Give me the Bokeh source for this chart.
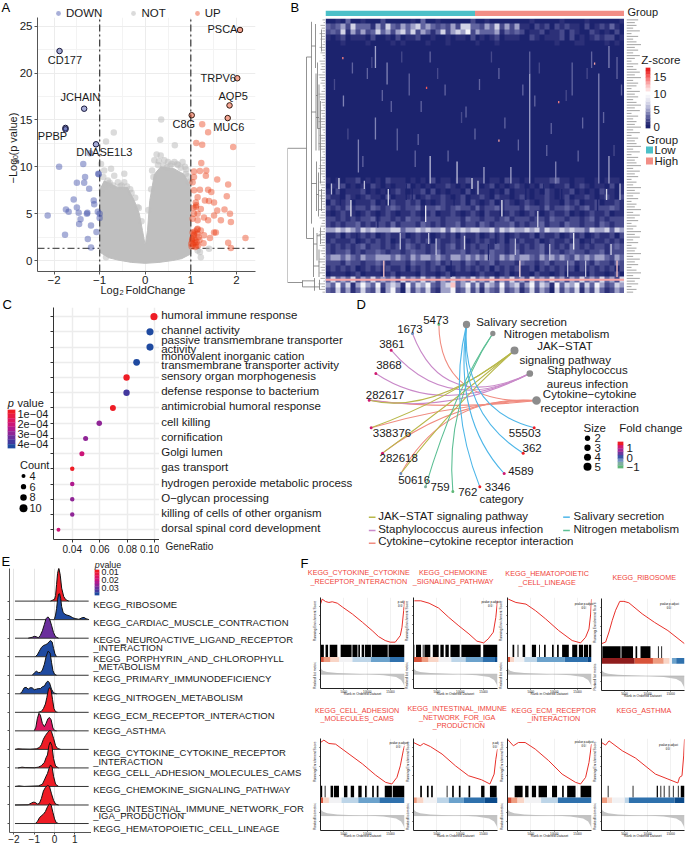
import math
import numpy as np
from bokeh.embed import file_html
from bokeh.layouts import column
from bokeh.models import (ColumnDataSource, FixedTicker, Grid, Label, Legend, LegendItem,
                          LinearAxis, LinearColorMapper, Range1d)
from bokeh.plotting import figure
from bokeh.resources import INLINE

OFF = -8
FONT = "Liberation Sans"
M = "\u2212"

# ---------- A: volcano ----------
down_x = [-2.14,-1.89,-1.76,-1.74,-1.68,-1.57,-1.5,-1.46,-1.42,-1.45,-1.5,-1.34,-1.32,-1.36,-1.23,-1.21,-1.13,-1.12,-1.27,-1.28,-1.19,-1.26,-1.19,-1.07,-1.03,-1.04,-1.0,-1.0,-1.02]
down_y = [4.8,10,2.75,5.45,5.2,6.5,5.65,5.1,4.4,3.9,8.3,8.3,8.9,10.3,7.65,11.45,6.4,6,5.1,5,3.75,2.3,1.4,3.05,9.25,5.2,5,4.55,9.2]
up_x = [1.25,1.38,1.12,1.25,1.93,1.23,1.07,1.2,1.34,1.33,1.07,1.04,1.58,1.82,1.38,1.45,1.2,1.07,1.79,1.15,1.31,1.4,1.51,1.11,1.11,1.22,1.58,1.74,1.86,1.07,1.15,1.29,1.51,1.38,1.04,1.15,1.66,1.88,1.51,1.55,1.15,1.22,1.07,1.15,1.29,1.42,2.2,1.82,1.88,1.28,1.06,1.1,1.03,1.08,1.17,1.05,1.12,1.02,1.09,1.14,1.04,1.19,1.13,1.07,1.01,1.1,1.16,1.03,1.06,1.12]
up_y = [14.55,13.7,12.55,12.35,12.1,10.4,9.5,9.55,9.6,9.05,8.9,8.35,8.65,8.1,7.55,7.3,7.55,7.5,6.85,6.75,6.4,6.35,6.2,6.2,5.7,5.5,5.35,5.45,5,5,5,4.6,4.8,4.3,4.45,4.3,4.3,4.1,3,3,3.4,3.2,2.85,2.85,2.7,2.4,2.4,1.9,1.35,1.85,2.4,2.2,2.1,1.9,2.5,1.7,1.6,1.5,3.1,3.3,3.0,2.2,1.95,2.7,1.8,1.45,1.6,2.3,5.6,5.9]
not_x = [0.35,-0.69,-0.86,0.33,0.65,-0.97,0.25,0.34,0.42,0.64,0.82,0.2,-0.75,-0.9,-0.46,-0.82,-0.68,-0.6,-0.46,-0.17,-0.86,1.22,1.15,1.2,0.96,0.89,1.4,0.72,0.55,0.15,-0.92,-0.8,-0.55,-0.3,0.9,0.5,0.3,
         -0.95,-0.88,-0.78,-0.7,-0.52,-0.4,-0.33,-0.22,-0.14,-0.08,0.07,0.13,0.18,0.28,0.4,0.47,0.58,0.7,0.78,0.87,0.93,0.98]
not_y = [15.05,13.65,12.7,12.9,12.3,10.3,11.3,11.2,10.7,10.5,10.5,10.7,9.8,9.6,9.25,8.55,9.05,8.35,8.35,5.7,0.35,0.35,1.07,0.9,8.35,9.25,1.25,10.2,10.1,9.6,8.9,8.1,7.9,7.2,9.7,10.5,10.6,
         7.6,7.9,8.3,8.0,8.0,7.9,7.6,6.7,5.6,4.2,5.4,7.6,8.9,10.2,10.1,9.9,10.3,10.3,9.9,10.0,9.0,8.4]
mass_x = [-1,-0.9,-0.6,-0.39,-0.24,-0.13,-0.06,0,0.05,0.1,0.2,0.34,0.63,0.85,0.96,1,1,0.8,0.6,0.3,0,-0.3,-0.6,-0.8,-1]
mass_y = [7.5,8.5,7.8,7.8,6.4,5,3.2,1.6,3.2,6.4,9.2,10,9.8,9.2,8.2,7.5,0.7,0.2,0,-0.2,-0.3,-0.2,0.05,0.3,0.9]
hit_dn_x = [-1.88,-1.34,-1.75,-1.75,-1.08]
hit_dn_y = [22.35,16.2,14.15,14.0,12.4]
hit_up_x = [2.08,2.02,1.85,1.81,1.02]
hit_up_y = [24.6,19.45,16.55,15.2,15.5]
fc_cut = [-1, 1]
p_cut = [1.3]

# ---------- B: heatmap ----------
digit_z = [0, .5, 1.2, 2.2, 3.5, 5, 7, 9, 12, 15]
top_rows = [
"112141120113111102141121110013112101111012111102111121110112",
"434536444253643545645434353664435463535221323132322131232421",
"343625353464535646354246356573544452434312231223132113212131",
"212312221311213122311211212213121231222113212223131212323312",
"111211102111021211112101211101211121111101111121112211112121"]
dark_levels = [0.7,0.6,0.5,0.6,0.7,0.8,0.6,0.5,0.5,0.4,0.4,0.4,0.4,0.4,0.4,0.4,0.5,0.5,0.6,0.7,0.7,0.6,0.5,0.5,0.4]
low_rows = [
"212122312121322212121312212232221221322121222342212211212221",
"122312121321212231212122321212212312123212132122312321221312",
"213122231212123212231312122131222121312221213212231212132212",
"322132123221312223123223212312232132212321223212312232123213",
"132231222312132232312123222313212312321232123221323122312232",
"323242332432343233423343234332423342333243324233432342333432",
"212322123212321223212312232123213221232123212322312123223122",
"332323233423323243323332333243323323423332332433233234232333",
"323233423233242333243232334233243233342323342332433233243233",
"556565465655566455656556465656655646565565646556565546556465",
"223132232312322312322123231322312323123223132231232312322313",
"232223123232312232323132232312323223132322312322323123223232",
"323232342332323243232332342323233243233232342323243232332343",
"323342323343233234332342333423323433234233342332343323342333",
"455454354455545435455454355454545435454554354545435454554354",
"333243323343233324332342333243233423332433234233342332433243",
"232323123232322313232323123232323132323223132323231323232313",
"122212312221231222132212312221232212312221322123122213221231",
"464546354645453645464535464546454635464536454645354645464536",
"547462575473565274657435684574636547456357465274657364753465",
"436352464362574163546325573463525436345246354163546253642354"]
hot_line_row = [47.5]
hot_line_z = [13]
col_streak = [.167,.167,.06,.11,.206,.28,.35,.35,.44,.53,.62,.683,.683,.77,.825,.914,.948,.948,.975,.32,.4,.5,.58,.7,.86,.09,.24,.6,.14,.19,.3,.47,.66,.74,.89,.058,.338,.78,.9,.58,
              .03,.075,.125,.155,.22,.255,.31,.375,.41,.455,.515,.555,.645,.715,.755,.805,.845,.875,.93,.965,.99,
              .02,.05,.085,.13,.175,.21,.25,.29,.335,.37,.43,.465,.51,.545,.59,.635,.67,.71,.75,.79,.83,.87,.91,.955,.985,
              .045,.105,.195,.27,.345,.42,.49,.57,.65,.73,.81,.885,.94,.975]
row_start = [5,18,14,22,8,10,25,6,26,27,27,10,6,26,8,10,5,25,7,15,12,20,9,14,18,8,20,18,9,13,24,16,12,23,6,7,12.4,15,8,22,
             11,20,25,7,15,6,21,9,24,17,11,6,22,8,19,13,24,9,17,23,12,
             30,31,33,29.5,35,31,39,30,34,40,32,39.5,29.5,41,33,40,30,35,41,31,39,44,32,41,30,
             29,39,44,30,39,44,29,39,44,30,44,39,31,44]
row_end = [9,22,16,28,12,14,30,8,30,30,30,30,10,30,14,30,9,30,11,17,14,22,11,16,20,10,24,20,11,15,27,18,14,25,9,7.4,12.8,15.4,8.4,22.4,
           13,22,27,9,17,8,23,11,26,19,13,8,24,10,21,15,26,11,19,25,14,
           32,34,36,31,38,34,42,33,37,43,34,42,32,44,36,43,33,38,44,33,42,47,35,43,33,
           31,41,47,33,41,47,31,41,47,32,47,41,33,47]
z_streak = [5,4,4,4,4,3,6,3,6,5,5,5,3,4,3,4,4,5,3,3,3,3,3,3,3,3,3,3,3,3,3,3,3,3,3,14,15,14,13,13,
            2.5,2.5,3,2.5,3,2.5,3,2.5,3,2.5,3,2.5,3,2.5,3,2.5,3,2.5,3,2.5,3,
            6,.1,8,6,.1,7,6,.1,8,6,.1,7,6,.1,8,6,.1,7,6,.1,8,6,.1,7,6,
            7,.1,12,.1,6,.1,7,.1,11,.1,6,.1,7,12]
group_sizes = [150, 150]
leaf_h = "3254364523645326545376453247654325436745326547653245367453265473654327456345267354635426735463527463"
dend_v = [(38,23.6,48),(23,47.6,48.8),(19,7,40),(14,0.6,37.3),(12,38,47),(10,1,9),(9.5,10,24),(8,8,20),(6.5,12,24),(5,15,30),(9,26,35),(7,28,36),(8.5,39,44),(6.5,42,47),(5,38,41),(11,47.2,49.5),(6,47.5,49.3),(4,2,6),(4,31,35)]
dend_h = [(38,19,23.6),(38,23,48),(23,11,47.7),(23,6,48.8),(19,14,7),(19,12,40),(14,10,5),(14,9.5,17),(9.5,8,14),(9.5,6.5,18),(8,5,20),(14,9,30),(9,7,32),(12,8.5,41),(12,6.5,45),(8.5,5,39.5)]
label_len = "7564837469574853746859476385746958374659483756948375694857364958473659485736495847365948573694857364"

# ---------- C: dot plot ----------
go_ratio = [.0993,.0964,.0964,.0867,.0794,.0794,.0695,.0596,.0497,.047,.04,.04,.04,.04,.03]
go_count = [10,10,10,9,8,8,7,6,5,5,4,4,4,4,3]
go_p = [.6,4.3,4.3,4.1,.7,3.6,.8,2.9,3.1,2.2,.7,2.4,2.9,3.1,2.1]

# ---------- D: network (layout units) ----------
cat_x = [378,457,522,568,588]
cat_y = [87,114,165,234,315]
cat_size = [7.3,5.3,8,6.7,8.7]
gene_ids = ["5473","1673","3861","3868","282617","338376","282618","50616","759","762","3346","4589","362","55503"]
gene_x = [295,216,152,106,86,92,126,181,255,337,418,491,548,581]
gene_y = [86,114,164,234,314,397,473,534,574,588,574,534,473,397]
gene_fc = [-.9,-.3,1.3,1.3,1.5,1.4,1.4,-.4,-.5,-.9,1.7,1.3,1.9,1.9]
edge_cat = [4,4,4,4,4,3,3,3,3,2,2,2,2,1,1,0,0,0,0]
edge_gene = ["5473","282617","338376","282618","50616","1673","3861","3868","282617","282617","338376","282618","50616","759","762","55503","362","4589","3346"]
edge_cx = [298,332,340,343,316,308,320,303,333,276,333,336,338,344,313,360,350,340,320]
edge_cy = [330,345,324,306,296,356,361,366,356,360,309,321,330,276,330,340,350,370,330]
edge_colors = ["#4db6e8","#5cbf94","#b8b84a","#c98ac9","#f08c80"]

# ---------- E: ridges ----------
ridge_names = ["RIBOSOME","CARDIAC","NEURO","PORPHYRIN","PRIMARY","NITROGEN","ECM","ASTHMA","CYTOKINE","CELL","CHEMOKINE","INTESTINAL","HEMATO"]
ridge_p = [.7,3.7,3.0,3.7,3.7,3.7,.7,1.8,.7,.7,.7,.7,.7]
rx = {}; rh = {}
rx["RIBOSOME"]=[-.2,0,.05,.1,.15,.21,.28,.35,.45,.55,.7]; rh["RIBOSOME"]=[0,.1,.3,.9,1.5,1.8,1.4,.7,.25,.08,0]
rx["CARDIAC"]=[-.05,0,.05,.1,.15,.2,.25,.3,.35,.42,.5,.6,.75,.9,1.05,1.2,1.35,1.45,1.55,1.7]; rh["CARDIAC"]=[0,.05,.25,.6,1.1,1.38,1.4,1.15,.7,.4,.3,.25,.2,.1,.05,.02,.1,.12,.05,0]
rx["NEURO"]=[-1.3,-1.1,-1,-.9,-.8,-.7,-.6,-.5,-.42,-.33,-.25,-.15,-.05,.05,.2]; rh["NEURO"]=[0,.05,.1,.08,.02,.15,.4,.75,1.05,1.15,1.05,.7,.3,.08,0]
rx["PORPHYRIN"]=[-.95,-.85,-.75,-.65,-.55,-.45,-.35,-.28,-.2,-.12,-.05,.02,.1]; rh["PORPHYRIN"]=[0,.1,.3,.5,.6,.65,.7,.8,.87,.8,.45,.15,0]
rx["PRIMARY"]=[-1.1,-1,-.9,-.8,-.7,-.6,-.5,-.42,-.32,-.22,-.15,-.08,0,.1]; rh["PRIMARY"]=[0,.12,.22,.15,.15,.28,.6,1,1.3,1.2,.7,.25,.05,0]
rx["NITROGEN"]=[-1.7,-1.6,-1.5,-1.4,-1.3,-1.2,-1.1,-1,-.9,-.8,-.7,-.6,-.5,-.4,-.33,-.25,-.15,-.05,.1]; rh["NITROGEN"]=[0,.12,.32,.35,.25,.33,.32,.22,.25,.28,.28,.38,.42,.62,.68,.6,.25,.05,0]
rx["ECM"]=[-.8,-.65,-.55,-.45,-.38,-.3,-.24,-.17,-.1,-.03,.05,.15]; rh["ECM"]=[0,.05,.2,.45,.8,1.25,1.34,1.2,.7,.2,.03,0]
rx["ASTHMA"]=[-1,-.92,-.85,-.77,-.7,-.6,-.5,-.42,-.33,-.25,-.17,-.08,0,.1]; rh["ASTHMA"]=[0,.2,.65,.95,.85,.4,.23,.4,.65,.72,.6,.15,.02,0]
rx["CYTOKINE"]=[-1.95,-1.8,-1.6,-1.2,-.9,-.75,-.65,-.55,-.45,-.35,-.23,-.15,-.05,.05,.15,.3]; rh["CYTOKINE"]=[0,.03,.02,.01,.03,.1,.25,.55,.75,.9,1.04,.95,.6,.2,.05,0]
rx["CELL"]=[-1.8,-1.6,-1.45,-1,-.8,-.65,-.5,-.42,-.35,-.28,-.21,-.13,-.05,.05,.2]; rh["CELL"]=[0,.04,.02,.01,.04,.12,.3,.55,.7,1.2,1.4,1.2,.5,.1,0]
rx["CHEMOKINE"]=[-1.95,-1.75,-1.5,-.8,-.6,-.5,-.42,-.35,-.28,-.2,-.12,-.05,.05,.2]; rh["CHEMOKINE"]=[0,.03,0,.03,.12,.35,.55,.7,.95,1.16,1.05,.55,.12,0]
rx["INTESTINAL"]=[-1.95,-1.3,-1.15,-1.05,-.95,-.85,-.75,-.65,-.55,-.45,-.34,-.25,-.15,-.05,.05,.2]; rh["INTESTINAL"]=[0,.01,.1,.15,.14,.05,.08,.35,.75,.95,1.06,1,.6,.25,.05,0]
rx["HEMATO"]=[-.95,-.85,-.75,-.65,-.55,-.45,-.35,-.25,-.17,-.08,0,.08,.2]; rh["HEMATO"]=[0,.1,.3,.42,.5,.65,.9,1.07,1,.6,.25,.05,0]

# ---------- F: enrichment ----------
N_RANK = 18000
es_x = [
[0,.02,.06,.1,.14,.2,.26,.38,.5,.615,.69,.77,.83,.89,.95,.97,.99,1],
[.01,.087,.185,.3,.42,.54,.66,.755,.835,.89,.95,.98,1],
[.01,.1,.22,.335,.455,.61,.77,.87,.93,.97,.99,1],
[0,.05,.09,.13,.17,.22,.27,.33,.49,.64,.8,1],
[0,.04,.1,.18,.34,.5,.655,.775,.85,.91,.95,.985,1],
[0,.08,.12,.2,.34,.5,.655,.81,.91,.96,.98,1],
[0,.07,.13,.21,.33,.49,.65,.81,.87,.93,.97,1],
[0,.05,.09,.25,.41,.65,.8,.92,.94,.97,.99,1]]
es_y = [
[.86,.965,.915,.895,.91,.88,.8,.65,.475,.3,.175,.09,.055,.055,.195,.37,.72,.93],
[.93,.93,.88,.776,.58,.4,.23,.077,.04,.126,.266,.58,.93],
[.965,.895,.86,.72,.545,.3,.09,.04,.16,.335,.65,.965],
[.056,.09,.3,.545,.755,.94,.94,.91,.68,.5,.33,.056],
[.915,.965,.894,.88,.67,.46,.225,.07,.035,.176,.42,.74,.845],
[.915,.845,.895,.83,.67,.42,.21,.125,.035,.245,.56,.775],
[.985,.845,.915,.915,.775,.53,.245,.07,.035,.176,.49,.88],
[.915,.86,.95,.74,.585,.245,.14,.056,.176,.21,.63,.985]]
rug_hits = [
[(0,.04),(.06,.09),(.11,.2),(.24,.37),(.38,.44),(.45,.47),(.49,.52),(.53,.6),(.61,.8),(.81,1)],
[(0,.01),(.03,.09),(.11,.12),(.13,.2),(.23,.3),(.32,.36),(.38,.42),(.44,.55),(.57,.8),(.83,1)],
[(.06,.08),(.12,.13),(.18,.21),(.29,.34),(.375,.385),(.435,.455),(.53,.55),(.59,.61),(.65,.73),(.77,.83),(.85,.9),(.91,.96),(.97,1)],
[(.01,.23),(.24,.38),(.41,.43),(.47,.59),(.68,.69),(.72,.73)],
[(0,.02),(.05,.06),(.12,.15),(.16,.22),(.28,.32),(.36,.4),(.45,.49),(.53,.55),(.615,.635),(.67,.69),(.765,.85),(.86,1)],
[(.08,.1),(.16,.18),(.21,.23),(.395,.405),(.46,.48),(.54,.56),(.655,.675),(.805,.845),(.91,.99)],
[(.085,.18),(.21,.25),(.29,.34),(.37,.47),(.53,.59),(.65,.67),(.71,.81),(.87,1)],
[(.075,.085),(.375,.385),(.665,.68),(.71,.72),(.75,.76),(.81,.82),(.86,.87),(.92,.93),(.955,1)]]
band_end = [
[.04,.12,.22,.38,.6,.82,1],[.1,.18,.3,.45,.62,.82,.97,1],[.03,.08,.2,.35,.68,.95,1],[.4,.62,.75,.82,.85,.9,1],
[.03,.1,.25,.45,.7,1],[.04,.12,.28,.42,.6,.85,1],[.05,.12,.2,.4,.6,1],[.07,.13,.28,.33,.88,1]]
band_level = [
[3,2,1,0,-1,-2,-3],[3,2,1,0,-1,-2,-3,-4],[3,1,0,-1,-2,-3,-4],[4,3,2,1,0,-2,-3],
[3,1,0,-1,-2,-3],[2,1,0,-1,-2,-3,-4],[3,2,1,0,-1,-3],[2,1,0,-1,-3,-4]]
rank_x = [0,.01,.03,.08,.2,.4,.6,.75,.9,.96,.99,1]
rank_metric = [.54,.35,.25,.16,.08,.03,-.02,-.07,-.2,-.4,-.7,-.95]
rank_ticks = [5000,10000,15000]

figs = []

def base(l, t, r, b, xr, yr, bl=0, bt=0, br=0, bb=0):
    l, t, r, b = round(l), round(t), round(r), round(b)
    left, top = l - bl, t - bt
    f = figure(width=r - l + bl + br, height=b - t + bt + bb, x_range=xr, y_range=yr,
               x_axis_type=None, y_axis_type=None, tools="", toolbar_location=None,
               output_backend="svg", background_fill_color=None, border_fill_color=None,
               outline_line_color=None, min_border_left=bl, min_border_right=br,
               min_border_top=bt, min_border_bottom=bb, frame_align=False,
               styles={"position": "absolute", "left": f"{left-OFF}px", "top": f"{top-OFF}px"})
    figs.append(f)
    return f

def T(f, x, y, text, size=11.5, color="#1a1a1a", align="left", angle=0, style="normal", bg=None):
    f.add_layout(Label(x=x, y=y, text=text, text_font=FONT, text_font_size=f"{size}px",
                       text_color=color, text_align=align, text_baseline="middle", angle=angle,
                       text_font_style=style, background_fill_color=bg))

def axis(f, side, ticks, labels=None, size=11, color="#555555", w=1, out=3, standoff=2,
         lcolor="#1a1a1a", range_name=None):
    kw = {}
    if range_name:
        kw["y_range_name"] = range_name
    ax = LinearAxis(ticker=FixedTicker(ticks=ticks), axis_line_color=color, axis_line_width=w,
                    major_tick_line_color=color, major_tick_line_width=w, major_tick_out=out,
                    major_tick_in=0, minor_tick_line_color=None,
                    major_label_text_font=FONT, major_label_text_font_size=f"{size}px",
                    major_label_text_color=lcolor, major_label_standoff=standoff, **kw)
    if labels is not None:
        ax.major_label_overrides = {k: v for k, v in zip(ticks, labels)}
    f.add_layout(ax, side)
    return ax

def grid(f, dim, ticks, color="#ececec", w=1):
    f.add_layout(Grid(dimension=dim, ticker=FixedTicker(ticks=ticks), grid_line_color=color, grid_line_width=w))

def colorbar(l, t, r, b, palette, top_v, bot_v, ticks, labels, size, standoff=3):
    f = base(l, t, r, b, Range1d(0, 1), Range1d(bot_v, top_v), br=35, bt=8, bb=8)
    n = len(palette)
    lo, hi = min(top_v, bot_v), max(top_v, bot_v)
    e = np.linspace(lo, hi, n + 1)
    f.quad(left=0, right=1, bottom=e[:-1], top=e[1:], fill_color=palette, line_color=palette, line_width=0.3)
    axis(f, "right", ticks, labels, size=size, color=None, out=0, standoff=standoff)
    return f

def key(xc, y0, y1, labels, sizes, size=11, marker="circle", colors="#000000", lx=None):
    n = len(labels)
    step = (y1 - y0) / max(n - 1, 1)
    f = base(xc - 6, y0 - step / 2, xc + 6, y1 + step / 2, Range1d(0, 1), Range1d(n - .5, -.5), br=30, bt=8, bb=8)
    f.scatter(x=[.5] * n, y=list(range(n)), size=sizes, marker=marker, fill_color=colors, line_color=None)
    axis(f, "right", list(range(n)), labels, size=size, color=None, out=0,
         standoff=int((lx if lx else xc + 7) - (xc + 6)))
    return f

# ---------- full-page text layer (moved on top of the panels at the end) ----------
cv = base(0, 0, 685, 843, Range1d(0, 685), Range1d(843, 0))
for s, x, y in [("A", 1, 6.5), ("B", 290, 6.5), ("C", 2, 304), ("D", 356, 303.7), ("E", 1, 560.7), ("F", 300, 562.7)]:
    T(cv, x, y, s, size=13, color="#000000")

# ---------- panel A ----------
pa = base(37, 17, 255, 271, Range1d(-2.364, 2.42), Range1d(-1.17, 25.93), bl=37, bt=0, br=5, bb=25)
grid(pa, 0, [-1.5, -.5, .5, 1.5], "#f3f3f3"); grid(pa, 1, [2.5, 7.5, 12.5, 17.5, 22.5], "#f3f3f3")
grid(pa, 0, [-2, -1, 0, 1, 2]); grid(pa, 1, [0, 5, 10, 15, 20, 25])
axis(pa, "below", [-2, -1, 0, 1, 2], [M + "2", M + "1", "0", "1", "2"], size=11.5, standoff=1)
axis(pa, "left", [0, 5, 10, 15, 20, 25], size=11.5, standoff=2)
pa.segment(x0=[-2.364], x1=[2.42], y0=p_cut, y1=p_cut, line_color="#555555", line_width=1.3, line_dash="7 3 2 3")
pa.patch(mass_x, mass_y, fill_color="#bfbfbf", line_color="#bfbfbf")
pa.scatter(not_x, not_y, size=6.5, fill_color="#bdbdbd", fill_alpha=.55, line_color=None)
pa.segment(x0=fc_cut, x1=fc_cut, y0=[-1.17, -1.17], y1=[25.93, 25.93], line_color="#444444", line_width=1.3, line_dash="7 3 2 3")
pa.scatter(down_x, down_y, size=6.5, fill_color="#3e4ea8", fill_alpha=.45, line_color=None)
pa.scatter(up_x, up_y, size=6.5, fill_color="#ea3a10", fill_alpha=.42, line_color=None)
pa.scatter(hit_dn_x, hit_dn_y, size=5.5, fill_color="#3e4ea8", fill_alpha=.45, line_color="#15153a", line_width=1)
pa.scatter(hit_up_x, hit_up_y, size=5.5, fill_color="#ea3a10", fill_alpha=.45, line_color="#331a10", line_width=1)
pk = base(52, 4, 240, 22, Range1d(0, 1), Range1d(0, 1))
k_dn = pk.scatter(x=[-1], y=[-1], size=7, fill_color="#3e4ea8", fill_alpha=.45, line_color=None)
k_no = pk.scatter(x=[-1], y=[-1], size=7, fill_color="#bdbdbd", fill_alpha=.55, line_color=None)
k_up = pk.scatter(x=[-1], y=[-1], size=7, fill_color="#ea3a10", fill_alpha=.42, line_color=None)
pk.add_layout(Legend(items=[LegendItem(label="DOWN", renderers=[k_dn]), LegendItem(label="NOT", renderers=[k_no]),
                            LegendItem(label="UP", renderers=[k_up])],
                     orientation="horizontal", location=(0, 3), background_fill_alpha=0, border_line_color=None,
                     label_text_font=FONT, label_text_font_size="11.5px", glyph_width=12, glyph_height=12,
                     spacing=25, margin=0, padding=0, label_standoff=2, label_text_color="#1a1a1a"))
for s, x, y in [("PSCA", 207, 28.7), ("CD177", 47.3, 59), ("TRPV6", 200, 77.3), ("JCHAIN", 60, 96.3), ("AQP5", 218, 95.7),
                ("C8G", 172, 123.7), ("PPBP", 37.3, 135.7), ("MUC6", 212.7, 126.3), ("DNASE1L3", 75.7, 151.3)]:
    T(cv, x, y, s, size=11)
T(cv, 12.3, 183, M + "Log", size=11, angle=math.pi / 2)
T(cv, 15, 163, "10", size=7.5, angle=math.pi / 2)
T(cv, 12.3, 155, "(p value)", size=11, angle=math.pi / 2)
T(cv, 100, 289, "Log", size=11); T(cv, 119, 292, "2", size=7.5); T(cv, 125, 289, "FoldChange", size=11)

# ---------- panel B ----------
ROWS, COLS = 50, 60
mat = np.zeros((ROWS, COLS))
for r, row in enumerate(top_rows):
    mat[r] = [digit_z[int(c)] for c in row[:COLS].ljust(COLS, "1")]
for i, v in enumerate(dark_levels):
    mat[5 + i] = v
for i, row in enumerate(low_rows):
    mat[29 + i] = [digit_z[int(c)] for c in row[:COLS].ljust(COLS, "1")]
heat_pal = ["#1c236e","#2c3078","#474a8c","#6164a0","#8083b5","#9fa1c8","#bcbdd9","#d2d3e6","#e6e6f1","#f4f4f9","#ffffff","#fde0e0","#fbc4c4","#f9a3a3","#f78080","#f45a5a","#ee3a3a","#e62020"]
hm = LinearColorMapper(palette=heat_pal, low=0, high=17.8)
pb = base(325, 18.3, 624, 293, Range1d(0, 1), Range1d(0, ROWS))
pb.image(image=[np.flipud(mat)], x=0, y=0, dw=1, dh=ROWS, color_mapper=hm)
src = ColumnDataSource(dict(l=[c - .0022 for c in col_streak], r=[c + .0022 for c in col_streak],
                            t=[ROWS - s for s in row_start], b=[ROWS - e for e in row_end], z=z_streak))
pb.quad(left="l", right="r", top="t", bottom="b", source=src, fill_color={"field": "z", "transform": hm}, line_color=None)
pb.quad(left=0, right=1, top=[ROWS - r + .2 for r in hot_line_row], bottom=[ROWS - r - .2 for r in hot_line_row],
        fill_color=[hm.palette[int(z)] for z in hot_line_z], line_color=None)
pg = base(325, 7, 624, 16, Range1d(0, sum(group_sizes)), Range1d(0, 1))
pg.hbar(y=[.5, .5], height=1, left=[0, group_sizes[0]], right=[group_sizes[0], sum(group_sizes)],
        fill_color=["#4cc0c8", "#f28e86"], line_color=None)
T(cv, 627, 11, "Group", size=11)
pd_ = base(287, 18.3, 325, 293, Range1d(38, 0), Range1d(ROWS, 0))
pd_.segment(x0=[h for h, _, _ in dend_v], x1=[h for h, _, _ in dend_v], y0=[a for _, a, _ in dend_v], y1=[b for _, _, b in dend_v], line_color="#777777", line_width=.8)
pd_.segment(x0=[a for a, _, _ in dend_h], x1=[b for _, b, _ in dend_h], y0=[y for _, _, y in dend_h], y1=[y for _, _, y in dend_h], line_color="#777777", line_width=.8)
ly = [(i + .5) * ROWS / len(leaf_h) for i in range(len(leaf_h))]
pd_.segment(x0=[int(c) for c in leaf_h], x1=[0] * len(ly), y0=ly, y1=ly, line_color="#8a8a8a", line_width=.7)
pl = base(626, 18.3, 641, 293, Range1d(0, 9), Range1d(ROWS, 0))
pl.segment(x0=[0] * len(ly), x1=[int(c) for c in label_len], y0=ly, y1=ly, line_color="#9a9a9a", line_width=.9)
T(cv, 640.7, 58.7, "Z-score", size=11.6)
colorbar(645, 66.7, 650, 128.3, heat_pal, 17.8, -.5, [0, 5, 10, 15], ["0", "5", "10", "15"], 11.5)
T(cv, 645.7, 139, "Group", size=11.5)
key(649, 149.2, 160.5, ["Low", "High"], [7, 7], size=11.5, marker="square", colors=["#4cc0c8", "#f28e86"], lx=654)

# ---------- panel C ----------
grad = ["#1f4aa0","#43389e","#6a2f9c","#8f2596","#b01a8e","#cc1578","#dc1660","#e81a42","#ee1c25"]
cm = LinearColorMapper(palette=grad[::-1], low=.6, high=4.4)
rows_c = list(range(15))
pc = base(53, 307, 159, 539, Range1d(.0264, .1033), Range1d(14.64, -.6), bl=5, bb=18)
grid(pc, 0, [.04, .06, .08, .10], w=1.5); grid(pc, 1, rows_c, w=1.5)
axis(pc, "below", [.04, .06, .08, .10], ["0.04", "0.06", "0.08", "0.10"], size=10, color="#333333", standoff=2)
axis(pc, "left", rows_c, [""] * 15, size=1, color="#333333", standoff=0)
csrc = ColumnDataSource(dict(x=go_ratio, y=rows_c, p=go_p, s=[2.25 * math.sqrt(c) for c in go_count]))
pc.scatter("x", "y", size="s", source=csrc, fill_color={"field": "p", "transform": cm}, line_color=None)
c_lines = [["humoral immune response"], ["channel activity"], ["passive transmembrane transporter", "activity"],
           ["monovalent inorganic cation", "transmembrane transporter activity"], ["sensory organ morphogenesis"],
           ["defense response to bacterium"], ["antimicrobial humoral response"], ["cell killing"], ["cornification"],
           ["Golgi lumen"], ["gas transport"], ["hydrogen peroxide metabolic process"], ["O" + M + "glycan processing"],
           ["killing of cells of other organism"], ["dorsal spinal cord development"]]
for i, ls in enumerate(c_lines):
    yc = 316 + i * 15.24 - 1.5
    if len(ls) == 2:
        shift = -1.3 if i == 2 else 0
        T(cv, 160.7, yc - 4.6 + shift, ls[0]); T(cv, 160.7, yc + 4.6 + shift, ls[1])
    else:
        T(cv, 160.7, yc, ls[0])
T(cv, 165, 546, "GeneRatio", size=10)
T(cv, 7.3, 402, "p", style="italic", size=11); T(cv, 17, 402, "value", size=11)
colorbar(7, 409, 16, 448, grad[::-1], .6, 4.47, [1, 2, 3, 4], ["1e" + M + "04", "2e" + M + "04", "3e" + M + "04", "4e" + M + "04"], 11, standoff=2)
T(cv, 19.5, 464, "Count", size=11)
key(23.3, 475.3, 507.3, ["4", "6", "8", "10"], [4, 5.3, 6.5, 8], size=11, lx=30)

# ---------- panel D ----------
fc_pal = ["#5fb878","#7fb0a0","#6f8fc0","#3a55a8","#6a3aa0","#a02a98","#d01a70","#ee1c25"]
fm = LinearColorMapper(palette=fc_pal, low=-1.18, high=1.9)
pn = base(340, 295, 685, 555, Range1d(0, 1035), Range1d(780, 0))
gx = dict(zip(gene_ids, gene_x)); gy = dict(zip(gene_ids, gene_y))
for c, g, cx, cy in zip(edge_cat, edge_gene, edge_cx, edge_cy):
    pn.quadratic(x0=[cat_x[c]], y0=[cat_y[c]], x1=[gx[g]], y1=[gy[g]], cx=[cx], cy=[cy], line_color=edge_colors[c], line_width=1.1)
pn.scatter(cat_x, cat_y, size=cat_size, fill_color="#8c8c8c", line_color=None)
pn.scatter("x", "y", size=3, source=ColumnDataSource(dict(x=gene_x, y=gene_y, fc=gene_fc)),
           fill_color={"field": "fc", "transform": fm}, line_color=None)
for s, x, y in [("Salivary secretion",407,79),("Nitrogen metabolism",490,114),("JAK" + M + "STAT",590,152),("signaling pathway",537,193),
                ("Staphylococcus",620,223),("aureus infection",619,265),("Cytokine" + M + "cytokine",607,296),("receptor interaction",600,337),
                ("5473",248,72),("1673",170,99),("3861",116,145),("3868",107,209),("282617",76,299),("338376",97,413),("282618",117,488),
                ("50616",173,553),("759",270,574),("762",353,588),("3346",433,574),("4589",503,527),("362",546,458),("55503",505,411),
                ("category",417,609),("JAK" + M + "STAT signaling pathway",113,660),("Staphylococcus aureus infection",113,699),
                ("Cytokine" + M + "cytokine receptor interaction",113,737),("Salivary secretion",699,660),("Nitrogen metabolism",699,699),
                ("Size",729,397),("Fold change",836,397)]:
    T(pn, x, y, s)
pn.segment(x0=[85, 85, 85, 668, 668], x1=[105, 105, 105, 688, 688], y0=[665, 705, 743, 665, 705], y1=[665, 705, 743, 665, 705],
           line_color=[edge_colors[2], edge_colors[3], edge_colors[4], edge_colors[0], edge_colors[1]], line_width=1.5)
colorbar(617.3, 440.7, 623.3, 468.3, fc_pal, 1.75, -1.18, [-1, 0, 1, 2], [M + "1", "0", "1", "2"], 11.5, standoff=3)
key(587.3, 438, 466, ["2", "3", "4", "5"], [5.3, 6.3, 7, 8], size=11.5, lx=595)

# ---------- panel E ----------
pe = base(9, 568, 91, 833, Range1d(-2.22, 1.82), Range1d(-.484, 13.76), bl=5, bb=12)
grid(pe, 0, [-2, -1, 0, 1], "#e4e4e4")
axis(pe, "below", [-2, -1, 0, 1], [M + "2", M + "1", "0", "1"], size=10, standoff=0, out=2)
axis(pe, "left", list(range(13)), [""] * 13, size=1, standoff=0, out=2)
for i, (nm, p) in enumerate(zip(ridge_names, ridge_p)):
    base_y = 12 - i
    col = grad[::-1][min(8, max(0, int((p - .7) / 3.0 * 8)))]
    xs = rx[nm]; ys = [base_y + h for h in rh[nm]]
    pe.varea(x=xs, y1=[base_y] * len(xs), y2=ys, fill_color=col)
    pe.line(xs, ys, line_color="#111111", line_width=1)
    pe.line([-1.95, 1.68], [base_y, base_y], line_color="#333333", line_width=1)
for s, zy in [("KEGG_RIBOSOME",161),("KEGG_CARDIAC_MUSCLE_CONTRACTION",217),("KEGG_NEUROACTIVE_LIGAND_RECEPTOR",266),("_INTERACTION",291),
              ("KEGG_PORPHYRIN_AND_CHLOROPHYLL",324),("_METABOLISM",349),("KEGG_PRIMARY_IMMUNODEFICIENCY",384),("KEGG_NITROGEN_METABOLISM",441),
              ("KEGG_ECM_RECEPTOR_INTERACTION",494),("KEGG_ASTHMA",539),("KEGG_CYTOKINE_CYTOKINE_RECEPTOR",607),("_INTERACTION",632),
              ("KEGG_CELL_ADHESION_MOLECULES_CAMS",665),("KEGG_CHEMOKINE_SIGNALING_PATHWAY",718),("KEGG_INTESTINAL_IMMUNE_NETWORK_FOR",773),
              ("_IGA_PRODUCTION",796),("KEGG_HEMATOPOIETIC_CELL_LINEAGE",833)]:
    T(cv, 92.7, 550 + zy / 3, s, size=9.5)
T(cv, 94.3, 564.7, "p", size=8.9, style="italic"); T(cv, 99.5, 564.7, "value", size=8.9)
colorbar(94, 569.3, 99, 594.7, grad[::-1], .66, 3.89, [1, 2, 3], ["0.01", "0.02", "0.03"], 8.9, standoff=2)

# ---------- panel F ----------
band_pal = ["#0b4a8a","#2f71ad","#6ba2cc","#bdd5e8","#f2f2f4","#f9d5c6","#ee9c80","#d8533a","#8f1d1d"]
geom = [(320,404,596.7,644.3,656.7,661.7,688.3),(412.7,497,596.7,644.3,656.7,661.7,688.3),(506.7,591,596.7,644.3,656.7,661.7,688.3),(600.7,684,598.3,646,657.7,663.3,690),
        (320,404,737.7,785,797,802.3,830),(413.3,497,737.7,785,797,802.3,830),(507,591,737.7,785,797,802.3,830),(600.7,684,737.7,785,797,802.3,830)]
def sub_range(f0, f1, v0, v1):
    s = (v1 - v0) / (f1 - f0)
    return Range1d(v0 - f0 * s, v1 + (1 - f1) * s)
for i, (l, r, t, e, g, d, k) in enumerate(geom):
    H = k - t
    f = base(l, t, r, k, Range1d(0, N_RANK), Range1d(0, 1), bl=4, bb=8, br=1)
    fb = (k - d) / H; fd = (k - g) / H; fe = (k - e) / H
    f.extra_y_ranges = {"es": sub_range(fe, 1, 0, 1), "rug": sub_range(fd, fe, 0, 1),
                        "band": sub_range(fb, fd, 0, 1), "rank": sub_range(0, fb, -1, .85)}
    grid(f, 0, rank_ticks, "#e8e8e8", .6)
    f.line([x * N_RANK for x in es_x[i]], es_y[i], y_range_name="es", line_color="#e8302a", line_width=1)
    f.quad(left=[a * N_RANK for a, _ in rug_hits[i]], right=[b * N_RANK for _, b in rug_hits[i]], bottom=0, top=1,
           y_range_name="rug", fill_color="#000000", line_color=None)
    ends = band_end[i]; starts = [0] + ends[:-1]
    f.quad(left=[a * N_RANK for a in starts], right=[a * N_RANK for a in ends], bottom=0, top=1, y_range_name="band",
           fill_color=[band_pal[int(v + 4)] for v in band_level[i]], line_color=None)
    f.varea(x=[x * N_RANK for x in rank_x], y1=[0] * len(rank_x), y2=rank_metric, y_range_name="rank", fill_color="#c4c4c4")
    f.line([0, N_RANK], [0, 0], y_range_name="rank", line_color="#aaaaaa", line_width=.6)
    axis(f, "below", rank_ticks, [str(v) for v in rank_ticks], size=3, color="#222222", out=1, standoff=0)
    axis(f, "left", [.1, .2, .6, .7, .8, .9], [""] * 6, size=1, color="#222222", out=1, standoff=0)
    lx = l - 6
    T(cv, lx, (t + e) / 2, "Running Enrichment Score", size=3.4, align="center", angle=math.pi / 2)
    T(cv, lx, (d + k) / 2, "Ranked list metric", size=3.4, align="center", angle=math.pi / 2)
    T(cv, (l + r) / 2, k + 5.5, "Rank in Ordered Dataset", size=3.4, align="center")

RED = "#ef3f38"
for s, zx, zy in [("KEGG_CYTOKINE_CYTOKINE",190,66),("_RECEPTOR_INTERACTION",190,92),("KEGG_CHEMOKINE",473,66),("_SIGNALING_PATHWAY",473,92),
                  ("KEGG_HEMATOPOIETIC",755,70),("_CELL_LINEAGE",755,95),("KEGG_RIBOSOME",1046,82)]:
    T(cv, 295 + zx / 3, 550 + zy / 3, s, size=7.2, color=RED, align="center")
for s, zx, zy in [("KEGG_CELL_ADHESION",185,44),("_MOLECULES_CAMS",185,69),("KEGG_INTESTINAL_IMMUNE",485,39),("_NETWORK_FOR_IGA",485,65),("_PRODUCTION",490,91),
                  ("KEGG_ECM_RECEPTOR",775,44),("_INTERACTION",775,69),("KEGG_ASTHMA",1045,44)]:
    T(cv, 295 + zx / 3, 695 + zy / 3, s, size=7.2, color=RED, align="center")
for zx, zy, s in [(316,601,"p.adj"),(586,601,"pvalue p.adjust"),(866,603,"pvalue p.adjust"),(1122,603,"pvalue p.adjust")]:
    T(cv, 295 + zx / 3, zy, s, size=2.8, color="#000000", align="center")
    T(cv, 295 + zx / 3, zy + 4, "0   0", size=2.8, color="#222222", align="center", bg="#eeeeee")
for zx, zy, s in [(310,741.7,"pvalue p.adjust"),(600,741.7,"p.adj"),(866,740.7,"pvalue p.adjust"),(1119,743.7,"pvalue p.adjust")]:
    T(cv, 295 + zx / 3, zy, s, size=2.8, color="#000000", align="center")
    T(cv, 295 + zx / 3, zy + 4, "0   0", size=2.8, color="#222222", align="center", bg="#eeeeee")

figs.append(figs.pop(0))
root = column(*figs, width=685, height=843, margin=(-8, 0, 0, -8))
open("out.html", "w").write(file_html(root, INLINE))
